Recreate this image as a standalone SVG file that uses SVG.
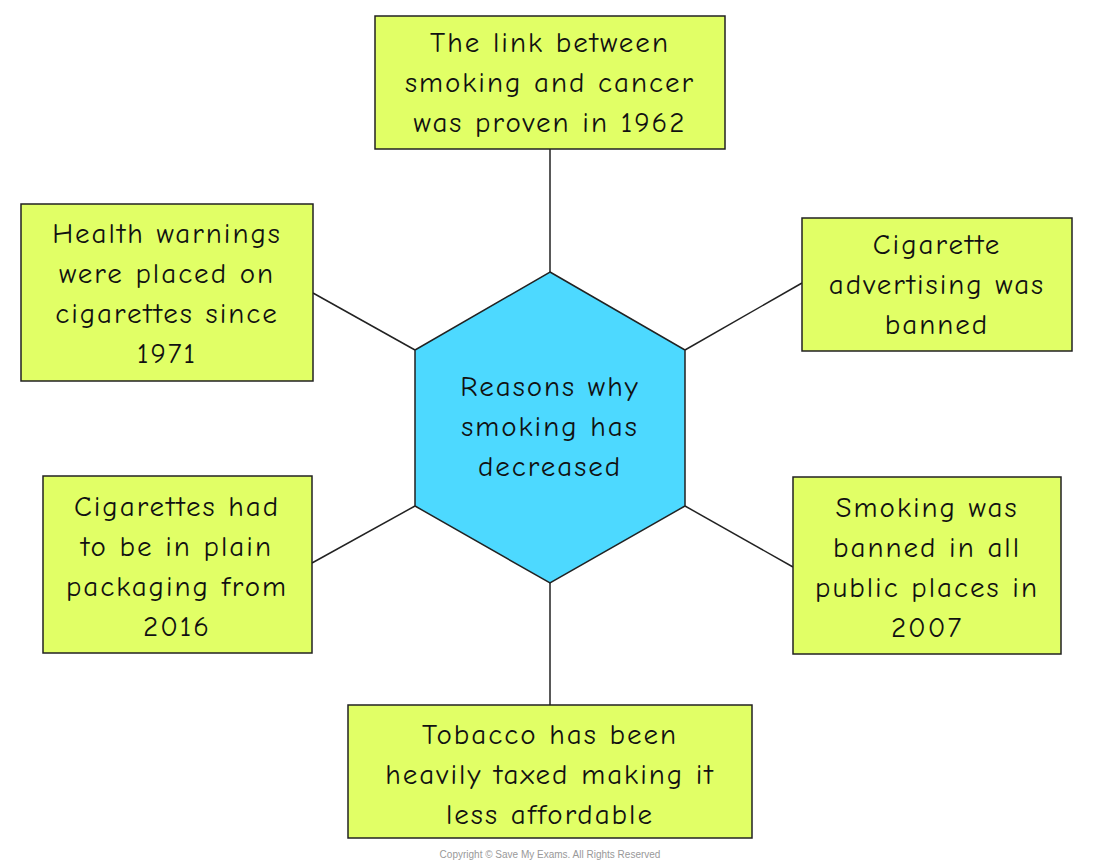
<svg xmlns="http://www.w3.org/2000/svg" width="1100" height="867" viewBox="0 0 1100 867">
<style>
.box{fill:#e1ff66;stroke:#222;stroke-width:1.5}
.t{font-family:"Comic Neue","DejaVu Sans",sans-serif;font-size:29px;fill:#111;text-anchor:middle;letter-spacing:2px}
.c line{stroke:#222;stroke-width:1.5}
</style>
<rect width="1100" height="867" fill="#fff"/>
<g class="c">
<line x1="550" y1="149" x2="550" y2="272"/>
<line x1="313" y1="293" x2="415" y2="350"/>
<line x1="802" y1="283" x2="685" y2="350"/>
<line x1="312" y1="563" x2="415" y2="506"/>
<line x1="793" y1="567" x2="685" y2="506"/>
<line x1="550" y1="583" x2="550" y2="705"/>
</g>
<g id="center">
<polygon points="550,272 685,350 685,506 550,583 415,506 415,350" fill="#4dd9ff" stroke="#222" stroke-width="1.5"/>
<text class="t" x="550" y="396">Reasons why</text>
<text class="t" x="550" y="436">smoking has</text>
<text class="t" x="550" y="476">decreased</text>
</g>
<g id="top">
<rect class="box" x="375" y="16" width="350" height="133"/>
<text class="t" x="550" y="52">The link between</text>
<text class="t" x="550" y="92">smoking and cancer</text>
<text class="t" x="550" y="132">was proven in 1962</text>
</g>
<g id="ul">
<rect class="box" x="21" y="204" width="292" height="177"/>
<text class="t" x="167" y="243">Health warnings</text>
<text class="t" x="167" y="283">were placed on</text>
<text class="t" x="167" y="323">cigarettes since</text>
<text class="t" x="167" y="363">1971</text>
</g>
<g id="ur">
<rect class="box" x="802" y="218" width="270" height="133"/>
<text class="t" x="937" y="254">Cigarette</text>
<text class="t" x="937" y="294">advertising was</text>
<text class="t" x="937" y="334">banned</text>
</g>
<g id="ll">
<rect class="box" x="43" y="476" width="269" height="177"/>
<text class="t" x="177" y="516">Cigarettes had</text>
<text class="t" x="177" y="556">to be in plain</text>
<text class="t" x="177" y="596">packaging from</text>
<text class="t" x="177" y="636">2016</text>
</g>
<g id="lr">
<rect class="box" x="793" y="477" width="268" height="177"/>
<text class="t" x="927" y="517">Smoking was</text>
<text class="t" x="927" y="557">banned in all</text>
<text class="t" x="927" y="597">public places in</text>
<text class="t" x="927" y="637">2007</text>
</g>
<g id="bottom">
<rect class="box" x="348" y="705" width="404" height="133"/>
<text class="t" x="550" y="744">Tobacco has been</text>
<text class="t" x="550" y="784">heavily taxed making it</text>
<text class="t" x="550" y="824">less affordable</text>
</g>
<text x="550" y="858" font-family="Liberation Sans,sans-serif" font-size="10" fill="#999" text-anchor="middle">Copyright © Save My Exams. All Rights Reserved</text>
</svg>
